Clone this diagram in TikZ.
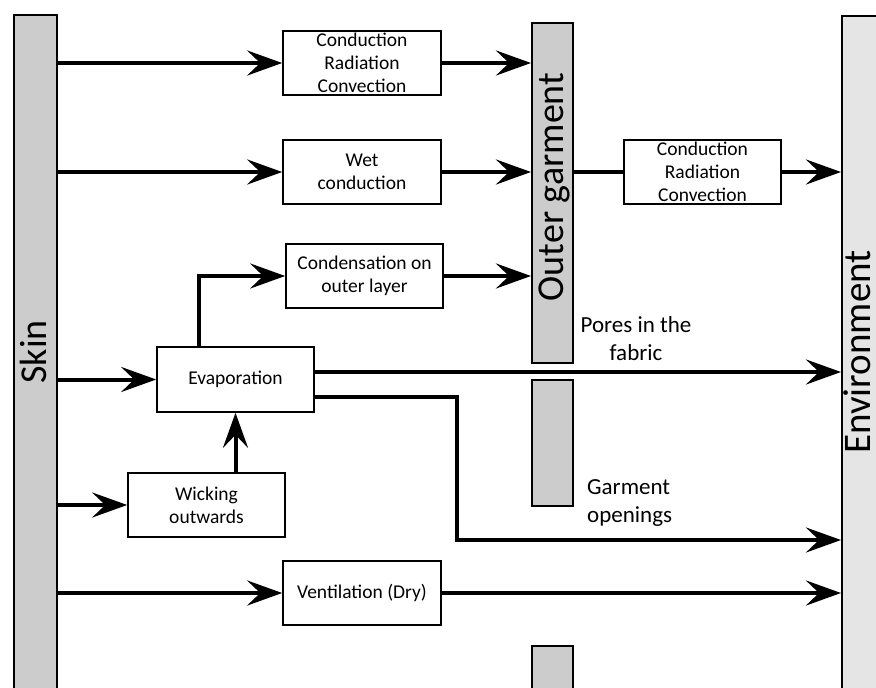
\documentclass[tikz,border=0pt]{standalone}
\usepackage{fontspec}
\setmainfont{Carlito}
\usetikzlibrary{arrows.meta,calc}
\definecolor{bargray}{gray}{0.8}
\definecolor{envgray}{gray}{0.9}
\tikzset{
  bar/.style={draw=black, line width=1.5pt, fill=bargray, inner sep=0pt, minimum width=41pt},
  procbox/.style={draw=black, line width=1.6pt, fill=white, minimum width=158pt, minimum height=64pt, inner sep=0pt, align=center, font=\fontsize{19.5}{23}\selectfont},
  flow/.style={line width=4pt, -{Stealth[length=35pt,width=25pt,inset=13pt]}},
  link/.style={line width=4pt},
  biglabel/.style={rotate=90, inner sep=0pt, font=\fontsize{38}{40}\selectfont},
  pathlabel/.style={inner sep=0pt, font=\fontsize{23}{28}\selectfont}
}
\begin{document}
\begin{tikzpicture}[x=1pt,y=-1pt]
    \useasboundingbox (0,0) rectangle (876,688);
    \clip (0,0) rectangle (876,688);
    \fill[white] (0,0) rectangle (876,688);

    \node[bar, minimum width=43pt, minimum height=700pt, anchor=north west] (skin) at (13,14) {};
    \node[bar, minimum height=340pt, anchor=north west] (og1) at (531,22) {};
    \node[bar, minimum height=126pt, anchor=north west] (og2) at (531,379) {};
    \node[bar, minimum height=60pt, anchor=north west] (og3) at (531,645) {};
    \node[bar, fill=envgray, minimum width=50pt, minimum height=700pt, anchor=north west] (env) at (841,15) {};

    \node[biglabel] (skintxt) at (33,352) {Skin};
    \node[biglabel] (ogtxt) at (554,187) {Outer garment};
    \node[biglabel, font=\fontsize{39}{41}\selectfont] (envtxt) at (857,352) {Environment};

    \node[procbox] (cond1) at (362,63) {Conduction\\Radiation\\Convection};
    \node[procbox] (wet) at (362,172) {Wet\\conduction};
    \node[procbox, minimum width=157pt] (cond2) at (702.5,172) {Conduction\\Radiation\\Convection};
    \node[procbox, minimum width=157pt] (conds) at (364.5,276) {Condensation on\\outer layer};
    \node[procbox, minimum width=157pt, minimum height=65pt] (evap) at (235.5,379.5) {Evaporation};
    \node[procbox, minimum width=157pt] (wick) at (206.5,505) {Wicking\\outwards};
    \node[procbox] (vent) at (362,593) {Ventilation (Dry)};

    \node[pathlabel, align=center] (porestxt) at (636,339) {Pores in the\\fabric};
    \node[pathlabel, align=left, anchor=west] (gotxt) at (587,503) {Garment\\openings};

    \draw[flow] (skin.east |- cond1.west) -- (cond1.west);
    \draw[flow] (cond1.east) -- (cond1.east -| og1.west);
    \draw[flow] (skin.east |- wet.west) -- (wet.west);
    \draw[flow] (wet.east) -- (wet.east -| og1.west);
    \draw[link] (og1.east |- cond2.west) -- (cond2.west);
    \draw[flow] (cond2.east) -- (cond2.east -| env.west);

    \draw[flow] ([xshift=-37pt]evap.north) |- (conds.west);
    \draw[flow] (conds.east) -- (conds.east -| og1.west);
    \draw[flow] (skin.east |- evap.west) -- (evap.west);

    \coordinate (pores) at ($(evap.east)+(0,-7.5)$);
    \draw[flow] (pores) -- (pores -| env.west);
    \coordinate (gstart) at ($(evap.east)+(0,17.5)$);
    \coordinate (gbend) at (457,540);
    \draw[flow] (gstart) -| (gbend) -- (gbend -| env.west);

    \draw[flow] (skin.east |- wick.west) -- (wick.west);
    \draw[flow] (wick.north -| evap.south) -- (evap.south);
    \draw[flow] (skin.east |- vent.west) -- (vent.west);
    \draw[flow] (vent.east) -- (vent.east -| env.west);
\end{tikzpicture}
\end{document}
